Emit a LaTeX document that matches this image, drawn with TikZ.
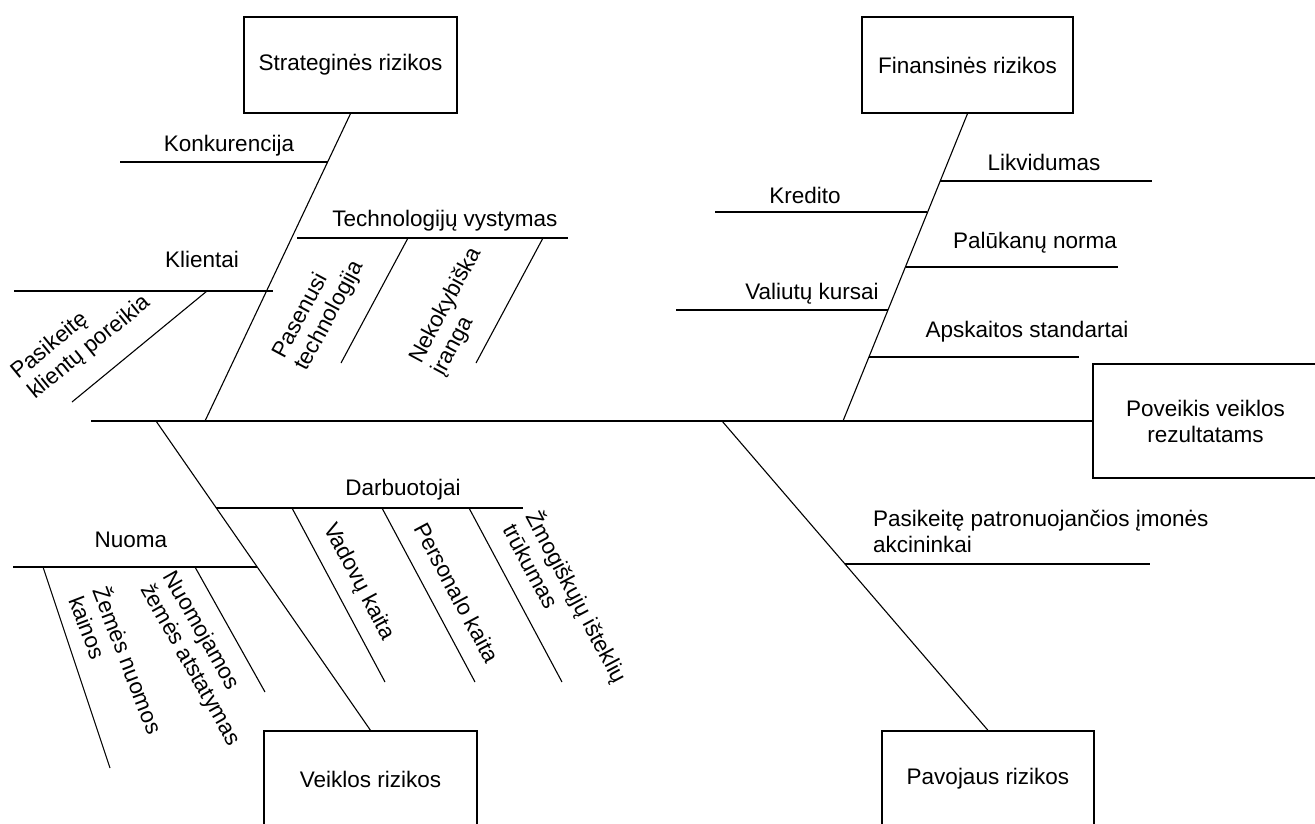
\documentclass[tikz,border=0pt]{standalone}
\usepackage{fontspec}
\setmainfont{Liberation Sans}
\begin{document}
\begin{tikzpicture}[x=1pt,y=-1pt,
  lbl/.style={inner sep=0pt, font=\fontsize{22.5}{26}\selectfont},
  multi/.style={lbl, align=left, text depth=0pt, anchor=south west},
  riskbox/.style={draw, line width=1.3pt, inner sep=0pt, align=center,
    font=\fontsize{22.5}{26}\selectfont},
  spine/.style={line width=1.5pt},
  bone/.style={line width=1.1pt},
  twig/.style={line width=1.2pt}]
\useasboundingbox (0,0) rectangle (1315,823);
\clip (0,0) rectangle (1315,823);

% category boxes and the effect box
\node[riskbox, minimum width=213pt, minimum height=96pt] (strat) at (350.5,65) {Strateginės rizikos};
\node[riskbox, minimum width=211pt, minimum height=96pt] (fin) at (967.5,65) {Finansinės rizikos};
\node[riskbox, minimum width=213pt, minimum height=96pt] (veik) at (370.5,779) {Veiklos rizikos};
\node[riskbox, minimum width=212pt, minimum height=96pt] (pav) at (988,779) {Pavojaus rizikos};
\node[riskbox, minimum width=225pt, minimum height=114pt] (pov) at (1205.5,421) {Poveikis veiklos\\rezultatams};

% spine and main bones
\coordinate (tail) at (91,421);
\coordinate (sj) at (205,421);
\coordinate (fj) at (843,421);
\coordinate (vj) at (156,421);
\coordinate (pj) at (722,421);
\draw[spine] (tail) -- (pov.west);
\draw[bone] (strat.south) -- (sj);
\draw[bone] (fin.south) -- (fj);
\draw[bone] (vj) -- (veik.north);
\draw[bone] (pj) -- (pav.north);

% strategic risks
\coordinate (konA) at (120,162); \coordinate (konB) at (328,162);
\draw[twig] (konA) -- (konB);
\node[lbl, anchor=base] (konL) at (229,151) {Konkurencija};
\coordinate (kliA) at (14,291); \coordinate (kliB) at (273,291);
\draw[twig] (kliA) -- (kliB);
\node[lbl, anchor=base] (kliL) at (202,267) {Klientai};
\coordinate (pkpA) at (207,291); \coordinate (pkpB) at (72,402);
\draw[bone] (pkpA) -- (pkpB);
\node[multi, rotate=39.2] (pkpL) at (35,400) {Pasikeitę\\klientų poreikia};
\coordinate (tecA) at (297,238); \coordinate (tecB) at (568,238);
\draw[twig] (tecA) -- (tecB);
\node[lbl, anchor=base] (tecL) at (445,226) {Technologijų vystymas};
\coordinate (pasA) at (408,238); \coordinate (pasB) at (341,363);
\draw[bone] (pasA) -- (pasB);
\node[multi, rotate=61.8] (pasL) at (307,372) {Pasenusi\\technologija};
\coordinate (nekA) at (543,238); \coordinate (nekB) at (476,363);
\draw[bone] (nekA) -- (nekB);
\node[multi, rotate=61.8] (nekL) at (444,377) {Nekokybiška\\įranga};

% financial risks
\coordinate (likA) at (940,181); \coordinate (likB) at (1152,181);
\draw[twig] (likA) -- (likB);
\node[lbl, anchor=base] (likL) at (1044,170) {Likvidumas};
\coordinate (kreA) at (715,212); \coordinate (kreB) at (927,212);
\draw[twig] (kreA) -- (kreB);
\node[lbl, anchor=base] (kreL) at (805,203) {Kredito};
\coordinate (palA) at (906,267); \coordinate (palB) at (1118,267);
\draw[twig] (palA) -- (palB);
\node[lbl, anchor=base] (palL) at (1035,248) {Palūkanų norma};
\coordinate (valA) at (676,310); \coordinate (valB) at (888,310);
\draw[twig] (valA) -- (valB);
\node[lbl, anchor=base] (valL) at (812,299) {Valiutų kursai};
\coordinate (apsA) at (869,357); \coordinate (apsB) at (1079,357);
\draw[twig] (apsA) -- (apsB);
\node[lbl, anchor=base] (apsL) at (1027,337) {Apskaitos standartai};

% operational risks
\coordinate (darA) at (216,508); \coordinate (darB) at (523,508);
\draw[twig] (darA) -- (darB);
\node[lbl, anchor=base] (darL) at (403,495) {Darbuotojai};
\coordinate (vadA) at (292,508); \coordinate (vadB) at (385,682);
\draw[bone] (vadA) -- (vadB);
\node[multi, rotate=-61.9] (vadL) at (323,528) {Vadovų kaita};
\coordinate (perA) at (382,508); \coordinate (perB) at (475,682);
\draw[bone] (perA) -- (perB);
\node[multi, rotate=-61.9] (perL) at (413,528) {Personalo kaita};
\coordinate (zmoA) at (469,508); \coordinate (zmoB) at (562,682);
\draw[bone] (zmoA) -- (zmoB);
\node[multi, rotate=-61.9] (zmoL) at (502,529) {Žmogiškųjų išteklių\\trūkumas};
\coordinate (nuoA) at (13,567); \coordinate (nuoB) at (257,567);
\draw[twig] (nuoA) -- (nuoB);
\node[lbl, anchor=base] (nuoL) at (131,547) {Nuoma};
\coordinate (zemA) at (43,567); \coordinate (zemB) at (110,768);
\draw[bone] (zemA) -- (zemB);
\node[multi, rotate=-69] (zemL) at (68,600) {Žemės nuomos\\kainos};
\coordinate (nzaA) at (195,567); \coordinate (nzaB) at (265,692);
\draw[bone] (nzaA) -- (nzaB);
\node[multi, rotate=-60.5] (nzaL) at (140,589) {Nuomojamos\\žemės atstatymas};

% hazard risks
\coordinate (akcA) at (845,564); \coordinate (akcB) at (1150,564);
\draw[twig] (akcA) -- (akcB);
\node[multi] (akcL) at (873,553) {Pasikeitę patronuojančios įmonės\\akcininkai};
\end{tikzpicture}
\end{document}
